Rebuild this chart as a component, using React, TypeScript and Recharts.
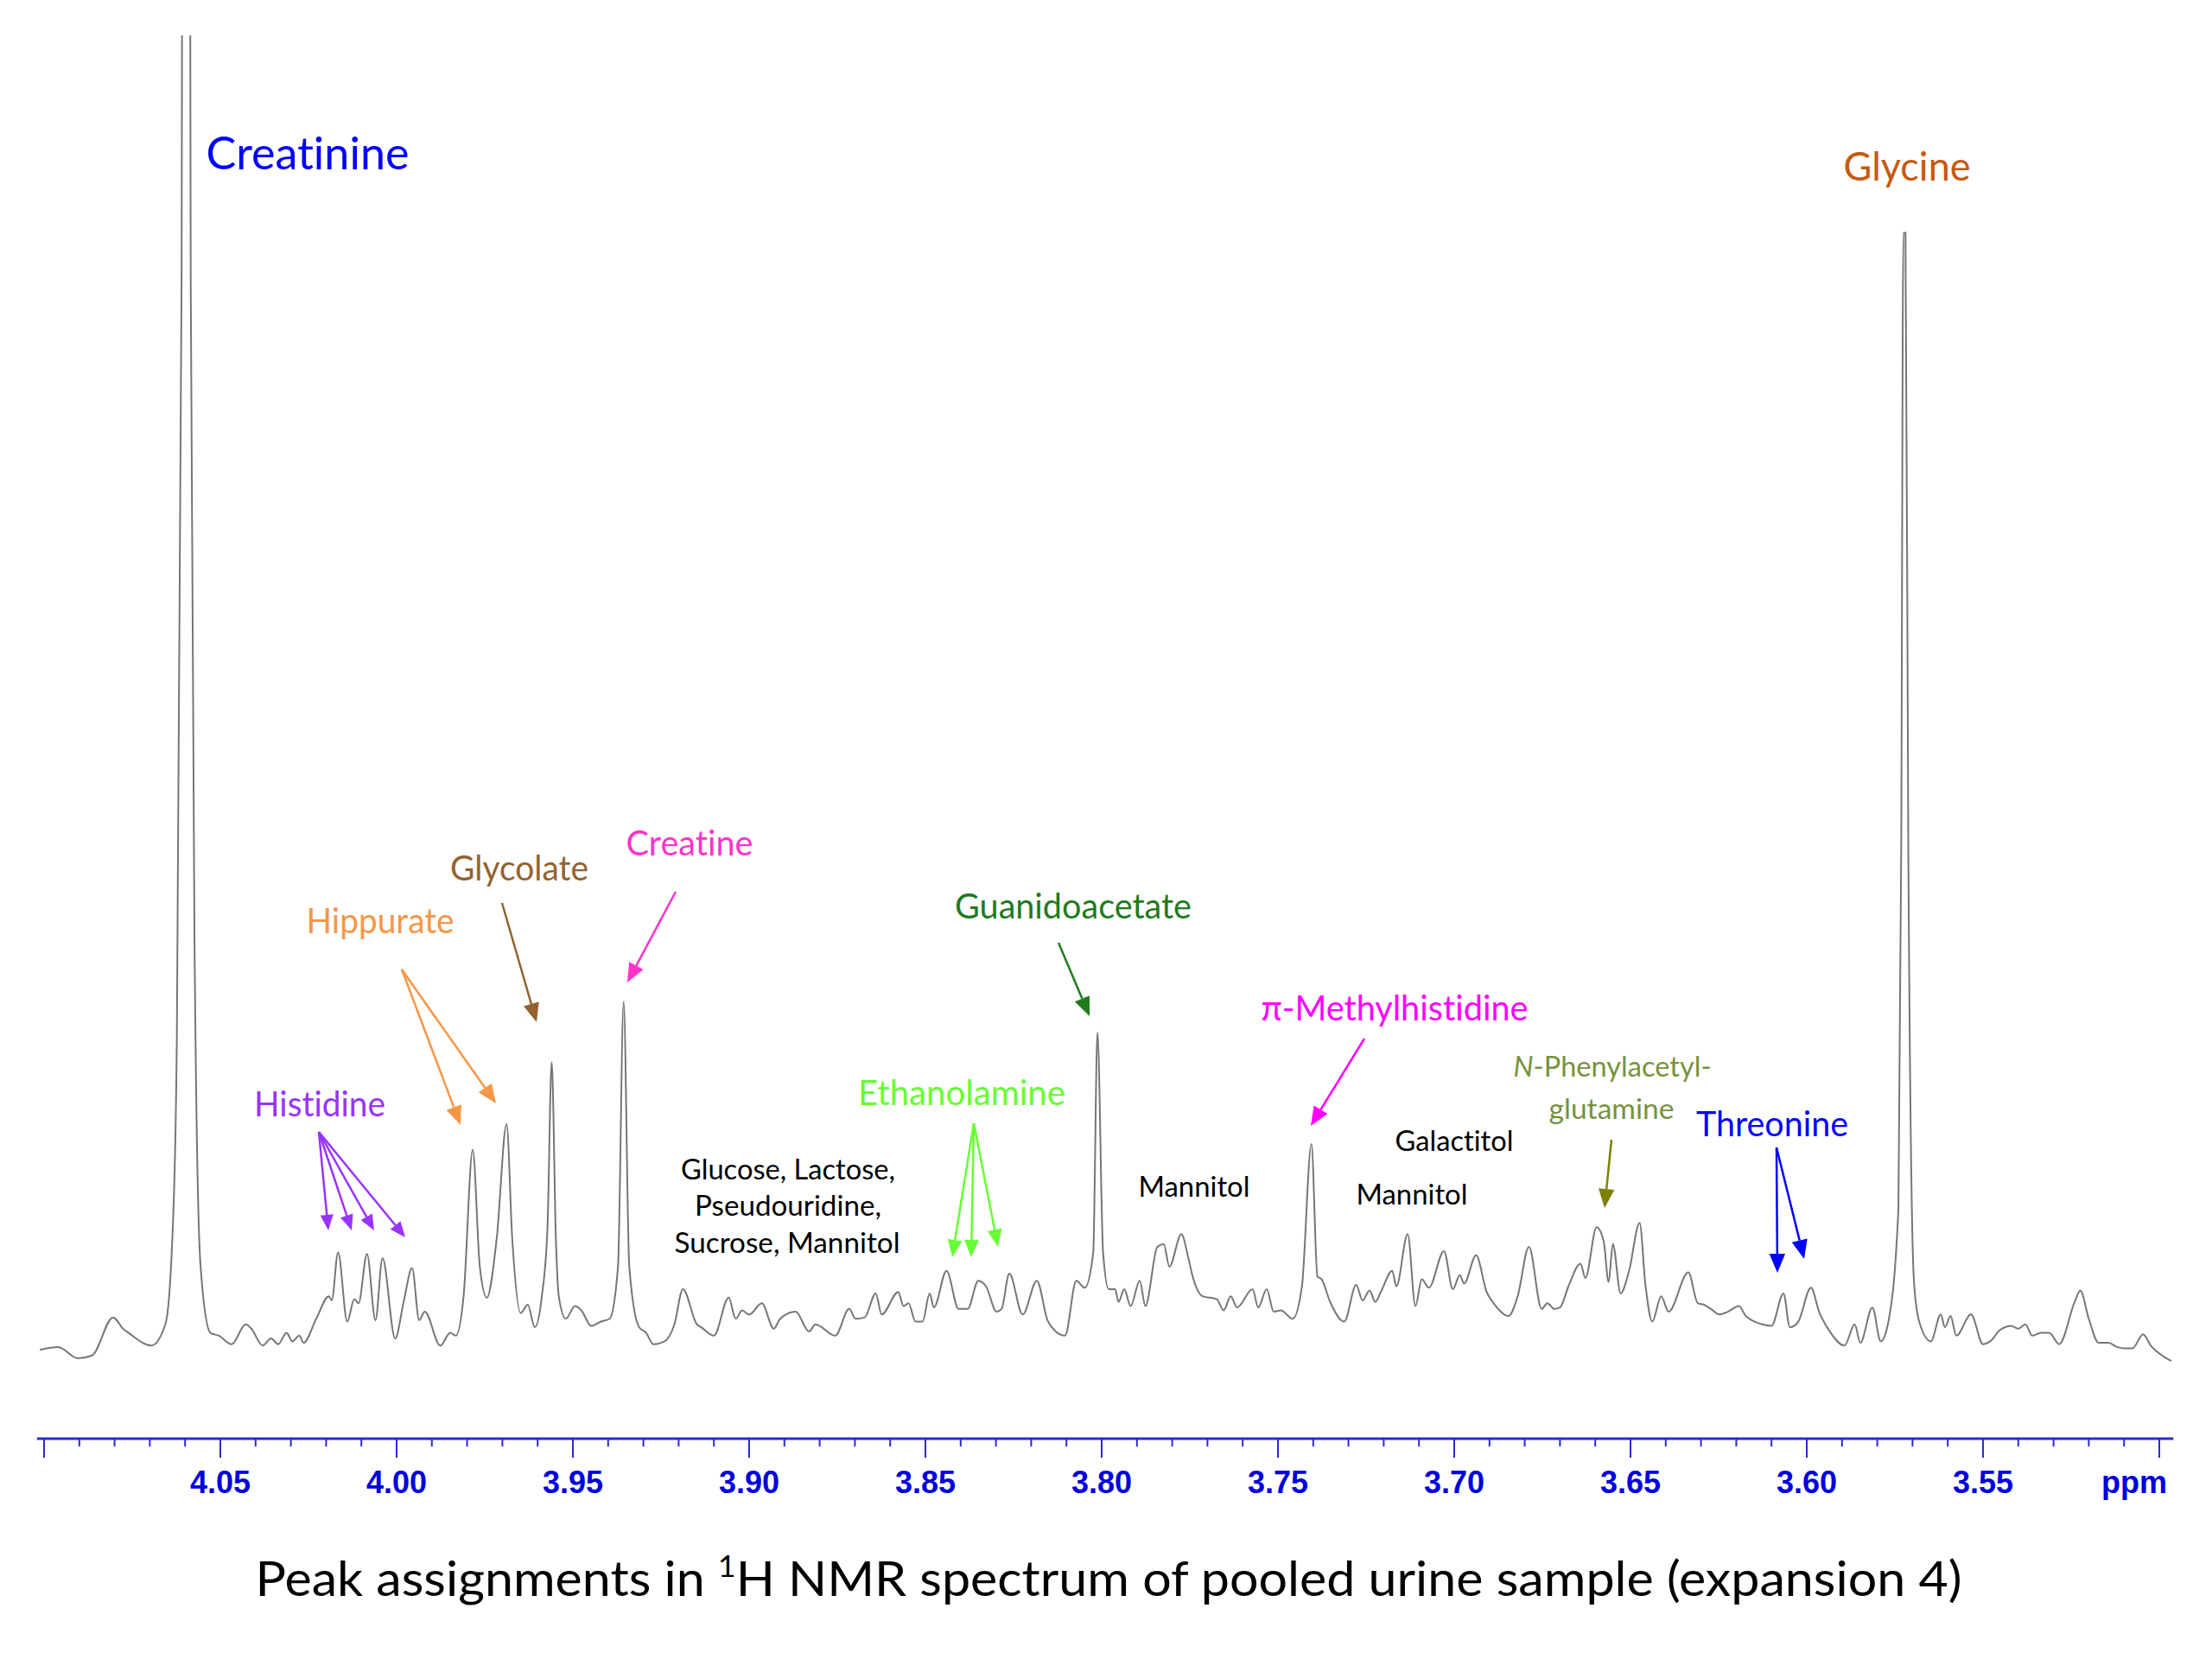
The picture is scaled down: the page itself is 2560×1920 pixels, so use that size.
import { LineChart, Line, XAxis, YAxis } from 'recharts'

// chemical shift (ppm) and intensity (arbitrary units)
const shifts = [
  4.1012, 4.096, 4.0904, 4.0864, 4.0804, 4.0776, 4.076, 4.0696, 4.0656, 4.0636,
  4.0624, 4.061, 4.0606, 4.0588, 4.0584, 4.0572, 4.0556, 4.0528, 4.0504, 4.0468,
  4.0428, 4.0412, 4.038, 4.0356, 4.0336, 4.0312, 4.0296, 4.0276, 4.0264, 4.0228,
  4.0192, 4.0184, 4.0166, 4.014, 4.012, 4.0108, 4.0084, 4.006, 4.004, 4.0004,
  3.998, 3.9956, 3.9936, 3.992, 3.9876, 3.9848, 3.9832, 3.981, 3.9784, 3.9764,
  3.9744, 3.9716, 3.9688, 3.9672, 3.9648, 3.9628, 3.9608, 3.9588, 3.9572, 3.956,
  3.9548, 3.954, 3.952, 3.9494, 3.9476, 3.9448, 3.942, 3.9396, 3.9372, 3.9356,
  3.934, 3.9312, 3.9292, 3.9272, 3.924, 3.9212, 3.9188, 3.9148, 3.9136, 3.91,
  3.9058, 3.9038, 3.902, 3.9, 3.8964, 3.893, 3.8912, 3.8868, 3.883, 3.8812,
  3.8756, 3.8716, 3.8698, 3.8672, 3.8641, 3.8624, 3.8577, 3.8562, 3.8548, 3.8528,
  3.8508, 3.8488, 3.8476, 3.844, 3.8406, 3.838, 3.835, 3.8328, 3.8298, 3.8284,
  3.8262, 3.8224, 3.8184, 3.8152, 3.8104, 3.8072, 3.8048, 3.8024, 3.8012, 3.7996,
  3.798, 3.7962, 3.7952, 3.7936, 3.7918, 3.7892, 3.7876, 3.7842, 3.7824, 3.7808,
  3.7774, 3.7754, 3.7744, 3.7714, 3.7674, 3.7654, 3.7634, 3.7616, 3.7572, 3.7556,
  3.7532, 3.7512, 3.7492, 3.7458, 3.7432, 3.7405, 3.7388, 3.7376, 3.7352, 3.7312,
  3.7278, 3.726, 3.724, 3.7224, 3.7208, 3.7176, 3.7164, 3.7132, 3.711, 3.7092,
  3.7072, 3.7029, 3.7004, 3.6984, 3.6972, 3.6938, 3.6908, 3.6888, 3.6846, 3.682,
  3.6788, 3.6752, 3.6736, 3.6716, 3.67, 3.6676, 3.6642, 3.6628, 3.6596, 3.6576,
  3.6562, 3.655, 3.6528, 3.6504, 3.6474, 3.6458, 3.6438, 3.6413, 3.6392, 3.6336,
  3.6309, 3.6292, 3.6272, 3.6248, 3.6224, 3.6192, 3.6173, 3.6125, 3.61, 3.6066,
  3.6048, 3.6024, 3.5988, 3.5965, 3.5932, 3.5893, 3.5864, 3.5848, 3.5814, 3.579,
  3.577, 3.574, 3.5732, 3.5726, 3.572, 3.5712, 3.5696, 3.5681, 3.5648, 3.562,
  3.5608, 3.5592, 3.5576, 3.5534, 3.55, 3.548, 3.5452, 3.542, 3.54, 3.538,
  3.536, 3.5336, 3.5312, 3.5284, 3.524, 3.5224, 3.52, 3.5172, 3.5144, 3.512,
  3.5098, 3.5076, 3.5046, 3.5024, 3.4986, 3.4966,
]

const intensity = [
  63, 65, 57, 59, 86, 78, 75, 66, 81, 143,
  270, 820, 1320, 1320, 820, 320, 122, 75, 73, 67,
  81, 78, 66, 71, 67, 75, 69, 73, 68, 85,
  101, 98, 132, 83, 99, 96, 131, 84, 128, 71,
  97, 121, 84, 90, 66, 75, 73, 101, 205, 122,
  100, 142, 223, 142, 89, 95, 79, 101, 150, 267,
  140, 101, 85, 94, 91, 80, 83, 85, 122, 310,
  122, 79, 75, 67, 69, 81, 106, 81, 79, 73,
  100, 85, 91, 88, 96, 78, 85, 90, 76, 81,
  73, 92, 85, 86, 103, 88, 104, 94, 96, 83,
  83, 103, 93, 119, 92, 92, 112, 108, 90, 92,
  117, 88, 112, 83, 73, 112, 107, 132, 288, 132,
  106, 106, 97, 106, 94, 112, 94, 136, 138, 122,
  145, 128, 117, 101, 99, 91, 101, 93, 106, 93,
  106, 90, 91, 85, 108, 209, 115, 113, 97, 83,
  109, 98, 105, 97, 104, 119, 108, 145, 94, 113,
  107, 133, 106, 116, 110, 130, 104, 96, 87, 101,
  136, 92, 96, 92, 93, 108, 124, 114, 150, 140,
  111, 138, 103, 119, 153, 110, 83, 101, 90, 118,
  96, 95, 92, 88, 90, 94, 87, 81, 80, 103,
  79, 83, 107, 90, 75, 66, 81, 68, 93, 69,
  81, 163, 420, 855, 855, 420, 112, 83, 69, 88,
  79, 87, 73, 88, 67, 69, 77, 80, 78, 81,
  73, 75, 75, 67, 97, 105, 85, 68, 68, 65,
  64, 64, 74, 66, 58, 55,
]

const majorLabels = ['4.05', '4.00', '3.95', '3.90', '3.85', '3.80', '3.75', '3.70', '3.65', '3.60', '3.55']

// one tick every 0.01 ppm from 4.10 down to 3.50
const axisTicks: number[] = []
for (let i = 0; i <= 60; i++) axisTicks.push(Math.round((4.1 - i * 0.01) * 100) / 100)

const data = shifts.map((ppm, i) => ({ ppm, y: intensity[i] }))

const AXIS_BLUE = '#2a2ad0'

function PpmTick(props: any) {
  const { x, y, payload } = props
  const v: number = payload.value
  const label = v.toFixed(2)
  const major = Math.round(v * 100) % 5 === 0
  return (
    <g>
      <line x1={x} y1={y} x2={x} y2={y + (major ? 22 : 9)} stroke={AXIS_BLUE} strokeWidth={2} />
      {major && majorLabels.includes(label) && (
        <text
          x={x}
          y={y + 63}
          textAnchor="middle"
          fill="#0000dd"
          fontFamily="'Liberation Sans', Arial, sans-serif"
          fontWeight="bold"
          fontSize={36}
        >
          {label}
        </text>
      )}
    </g>
  )
}

type Label = { text: string; x: number; y: number; color: string; size: number; w: number }

const labels: Label[] = [
  { text: 'Creatinine', x: 356, y: 176, color: '#0000ff', size: 52, w: 235 },
  { text: 'Glycine', x: 2207, y: 191, color: '#c65911', size: 46, w: 147 },
  { text: 'Creatine', x: 798, y: 975, color: '#ff33cc', size: 40, w: 147 },
  { text: 'Glycolate', x: 601, y: 1004, color: '#94622f', size: 40, w: 160 },
  { text: 'Hippurate', x: 440, y: 1065, color: '#f79646', size: 40, w: 171 },
  { text: 'Histidine', x: 370, y: 1277, color: '#9933ff', size: 40, w: 152 },
  { text: 'Guanidoacetate', x: 1242, y: 1048, color: '#1e7b1e', size: 40, w: 274 },
  { text: 'Ethanolamine', x: 1113, y: 1264, color: '#66ff33', size: 40, w: 240 },
  { text: 'π-Methylhistidine', x: 1614, y: 1166, color: '#ff00ff', size: 40, w: 309 },
  { text: 'glutamine', x: 1865, y: 1282, color: '#76923c', size: 33, w: 145 },
  { text: 'Threonine', x: 2051, y: 1300, color: '#0000ff', size: 40, w: 176 },
  { text: 'Galactitol', x: 1683, y: 1319, color: '#000000', size: 33, w: 137 },
  { text: 'Mannitol', x: 1382, y: 1372, color: '#000000', size: 33, w: 129 },
  { text: 'Mannitol', x: 1634, y: 1381, color: '#000000', size: 33, w: 129 },
  { text: 'Glucose, Lactose,', x: 912, y: 1352, color: '#000000', size: 33, w: 248 },
  { text: 'Pseudouridine,', x: 912, y: 1394, color: '#000000', size: 33, w: 216 },
  { text: 'Sucrose, Mannitol', x: 911, y: 1437, color: '#000000', size: 33, w: 261 },
]

type Arrow = { from: [number, number]; to: [number, number][]; color: string; head: number }

const arrows: Arrow[] = [
  { from: [369, 1310], to: [[380, 1424], [407, 1424], [433, 1424], [469, 1432]], color: '#9933ff', head: 18 },
  { from: [465, 1122], to: [[533, 1302], [574, 1277]], color: '#f79646', head: 22 },
  { from: [581, 1045], to: [[621, 1183]], color: '#94622f', head: 22 },
  { from: [782, 1032], to: [[726, 1137]], color: '#ff33cc', head: 22 },
  { from: [1225, 1091], to: [[1261, 1176]], color: '#1e7b1e', head: 22 },
  { from: [1127, 1300], to: [[1102, 1455], [1124, 1455], [1155, 1443]], color: '#66ff33', head: 20 },
  { from: [1579, 1202], to: [[1517, 1303]], color: '#ff00ff', head: 22 },
  { from: [1865, 1319], to: [[1857, 1398]], color: '#7f7f00', head: 22 },
  { from: [2056, 1328], to: [[2057, 1473], [2088, 1457]], color: '#0000ff', head: 22 },
]

function ArrowLine({ x1, y1, x2, y2, color, head }: any) {
  const a = Math.atan2(y2 - y1, x2 - x1)
  const bx = x2 - head * Math.cos(a)
  const by = y2 - head * Math.sin(a)
  const hw = head * 0.42
  const px = -Math.sin(a) * hw
  const py = Math.cos(a) * hw
  return (
    <g>
      <line x1={x1} y1={y1} x2={bx} y2={by} stroke={color} strokeWidth={2.5} />
      <polygon points={`${x2},${y2} ${bx + px},${by + py} ${bx - px},${by - py}`} fill={color} />
    </g>
  )
}

export default function App() {
  const font = "Lato, 'Open Sans', sans-serif"
  const noLig = { fontVariantLigatures: 'none' as const }
  return (
    <div style={{ position: 'absolute', left: 0, top: 0, width: 2560, height: 1920, background: '#fff' }}>
      <LineChart
        width={2560}
        height={1920}
        data={data}
        margin={{ top: 41, right: 44.68, bottom: 225, left: 42.84 }}
      >
        <XAxis
          dataKey="ppm"
          type="number"
          domain={[3.496, 4.102]}
          reversed
          allowDataOverflow
          ticks={axisTicks}
          interval={0}
          tick={<PpmTick />}
          tickLine={false}
          tickSize={0}
          tickMargin={0}
          height={30}
          axisLine={{ stroke: AXIS_BLUE, strokeWidth: 3 }}
        />
        <YAxis hide type="number" domain={[0, 995]} allowDataOverflow />
        <Line
          type="monotone"
          dataKey="y"
          stroke="#767676"
          strokeWidth={2}
          dot={false}
          activeDot={false}
          isAnimationActive={false}
        />
      </LineChart>

      <svg
        width={2560}
        height={1920}
        style={{ position: 'absolute', left: 0, top: 0, pointerEvents: 'none' }}
      >
        {arrows.map((ar, i) =>
          ar.to.map((t, j) => (
            <ArrowLine
              key={`${i}-${j}`}
              x1={ar.from[0]}
              y1={ar.from[1]}
              x2={t[0]}
              y2={t[1]}
              color={ar.color}
              head={ar.head}
            />
          ))
        )}
        {labels.map((l, i) => (
          <text
            key={i}
            x={l.x}
            y={l.y}
            textAnchor="middle"
            dominantBaseline="central"
            fill={l.color}
            fontFamily={font}
            fontSize={l.size}
            textLength={l.w}
            lengthAdjust="spacingAndGlyphs"
            style={noLig}
          >
            {l.text}
          </text>
        ))}
        <text
          x={1866}
          y={1233}
          textAnchor="middle"
          dominantBaseline="central"
          fill="#76923c"
          fontFamily={font}
          fontSize={33}
          textLength={229}
          lengthAdjust="spacingAndGlyphs"
          style={noLig}
        >
          <tspan fontStyle="italic">N</tspan>-Phenylacetyl-
        </text>
        <text
          x={2470}
          y={1728}
          textAnchor="middle"
          fill="#0000dd"
          fontFamily="'Liberation Sans', Arial, sans-serif"
          fontWeight="bold"
          fontSize={36}
        >
          ppm
        </text>
        <text
          x={1283}
          y={1847}
          textAnchor="middle"
          fill="#000"
          fontFamily={font}
          fontSize={56}
          textLength={1975}
          lengthAdjust="spacingAndGlyphs"
          style={noLig}
        >
          Peak assignments in <tspan dy={-22} fontSize={34}>1</tspan>
          <tspan dy={22}>H NMR spectrum of pooled urine sample (expansion 4)</tspan>
        </text>
      </svg>
    </div>
  )
}
